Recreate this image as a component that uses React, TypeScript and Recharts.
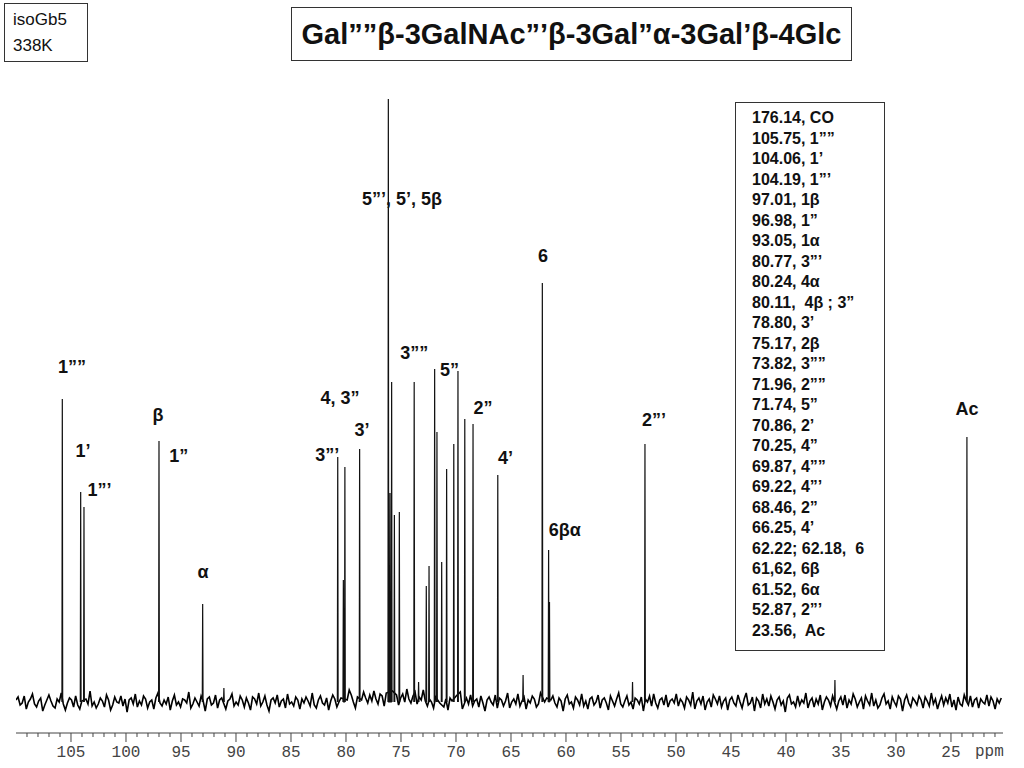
import React from 'react';
import { LineChart, Line, XAxis, YAxis, ReferenceDot } from 'recharts';

// peak positions (ppm) and heights (px above baseline)
const PEAK_PPM = [
  105.79, 104.12, 103.82, 97.0, 93.03, 91.1, 80.75, 80.24, 80.1, 78.76,
  76.15, 76.0, 75.85, 75.6, 75.15, 73.8, 73.4, 72.7, 72.45, 71.94,
  71.73, 71.3, 70.85, 70.2, 69.82, 69.2, 68.45, 66.2, 63.9, 62.15,
  61.58, 61.5, 53.95, 52.82, 35.55, 23.55,
];
const PEAK_HEIGHT = [
  303, 210, 195, 261, 98, 14, 245, 122, 235, 253,
  603, 209, 320, 187, 190, 320, 20, 116, 136, 333,
  270, 140, 233, 258, 331, 283, 278, 227, 27, 419,
  152, 100, 20, 258, 22, 265,
];
const PEAK_HALF = 0.035;

// baseline noise, sampled every NOISE_STEP ppm from NOISE_START
const NOISE_START = 110;
const NOISE_STEP = 0.187;
const NOISE = [
  2, 5, -3, -1, 6, -7, 0, 3, 8, -2, -5, 1, 4, -9, -3, 2, 7, 1, -4, -6,
  3, 0, 9, -2, -8, -1, 4, 2, -5, 6, -3, -7, 1, 5, 3, -2, 11, -4, 0, -6,
  -2, 4, 1, -5, 7, 2, -8, -3, 5, 0, -1, 6, -4, 3, -10, 2, 4, -2, 8, -5,
  1, -3, 6, 3, -6, 0, 2, -7, 4, 9, -1, -4, 2, -2, 5, -8, 1, 7, -3, 0,
  -5, 3, 2, -1, 10, -6, -2, 4, 0, -4, 6, 1, -9, 3, 5, -3, -1, 7, -6, 2,
  4, -2, -7, 1, 3, 8, -4, 0, -3, 6, 2, -5, 4, -1, -8, 5, 3, -2, 9, -4,
  0, 6, -3, -9, 2, 4, -1, 7, -5, 1, 3, -6, 8, -2, 0, -4, 5, 2, -7, 3,
  -1, 5, 1, -4, 9, -3, -6, 2, 6, -1, -3, 4, -8, 1, 7, 3, -5, 0, 4, -7,
  6, 2, 12, 7, 0, -6, 5, 9, 2, 10, 4, -1, 7, 1, 11, 3, -2, 8, 6, -4,
  9, 5, 1, 11, 2, 7, -3, 4, 8, 0, 13, 3, -1, 6, 10, -2, 5, 2, 12, 1,
  -4, 3, 0, -6, 5, 2, -1, 8, -5, 3, -8, 4, 1, -2, 6, -3, 10, -7, 0, 4,
  -2, 7, -4, 1, 3, -5, 6, -1, -9, 2, 5, 0, -3, 7, -6, 4, 2, -4, 1, 9,
  -6, 0, 3, -2, 8, -4, 1, 5, -7, 2, -1, 6, 3, -5, -2, 9, -3, 0, 4, -8,
  2, 6, -1, -5, 4, 1, -9, 3, 7, -2, 0, -6, 5, 2, -3, 8, -4, 1, -7, 3,
  5, -3, 0, 7, -6, 2, 4, -1, -8, 6, 1, -4, 3, 9, -2, -5, 1, 6, -3, 0,
  -7, 4, 2, -2, 5, -9, 3, 0, 6, -4, 8, -1, -6, 2, 4, -3, 7, -5, 1, 3,
  -1, 8, -4, 3, 0, -6, 5, 2, -3, 10, -7, 1, 4, -2, 6, -8, 0, 3, -5, 7,
  3, -2, 6, -5, 1, 4, -8, 2, 5, -1, -4, 7, 0, -6, 3, 9, -3, -1, 5, -9,
  4, 1, -6, 8, -2, 3, -4, 6, 0, -7, 2, 5, -3, 1, -10, 4, 7, -2, 0, -5,
  6, -3, 2, -1, 9, -6, 1, 4, -5, 3, -2, 7, -8, 0, 5, 2, -4, 6, -1, -7,
  1, 5, -3, 7, -6, 2, -2, 8, 3, -5, 0, 4, -7, 6, 1, -3, 9, -4, 2, -6,
  -3, 4, 8, -2, 1, -7, 5, 0, -4, 6, 3, -9, 2, 7, -1, -5, 4, 1, -3, 6,
  2, -6, 5, 1, -4, 9, -2, 3, -7, 0, 6, -3, 4, -1, 8, -5, 2, -8, 5, -2,
  -4, 7, 1, -3, 6, -5, 2, 4, -6, 3, 0, -2, 7, -4, 5, 1, -7, 3, -1, 4,
];

// peak annotations: text, ppm and height of the text centre
const LABEL_TEXT = [
  '1\u201d\u201d', '1\u2019', '1\u201d\u2019', '\u03b2', '1\u201d', '\u03b1',
  '3\u201d\u2019', '4, 3\u201d', '3\u2019', '5\u201d\u2019, 5\u2019, 5\u03b2',
  '3\u201d\u201d', '5\u201d', '2\u201d', '4\u2019', '6', '6\u03b2\u03b1', '2\u201d\u2019', 'Ac',
];
const LABEL_PPM = [
  104.9, 103.9, 102.4, 97.1, 95.2, 93.0, 81.7, 80.55, 78.55, 74.9,
  73.8, 70.6, 67.55, 65.5, 62.1, 60.1, 52.0, 23.55,
];
const LABEL_Y = [
  335, 251, 212, 287, 246, 130, 247, 304, 272, 503,
  349, 332, 294, 244, 446, 172, 282, 293,
];

const SHIFT_LIST = [
  '176.14, CO', '105.75, 1\u201d\u201d', '104.06, 1\u2019', '104.19, 1\u201d\u2019',
  '97.01, 1\u03b2', '96.98, 1\u201d', '93.05, 1\u03b1', '80.77, 3\u201d\u2019',
  '80.24, 4\u03b1', '80.11,  4\u03b2 ; 3\u201d', '78.80, 3\u2019', '75.17, 2\u03b2',
  '73.82, 3\u201d\u201d', '71.96, 2\u201d\u201d', '71.74, 5\u201d', '70.86, 2\u2019',
  '70.25, 4\u201d', '69.87, 4\u201d\u201d', '69.22, 4\u201d\u2019', '68.46, 2\u201d',
  '66.25, 4\u2019', '62.22; 62.18,  6', '61,62, 6\u03b2', '61.52, 6\u03b1',
  '52.87, 2\u201d\u2019', '23.56,  Ac',
];

const MAJOR_TICKS = [105, 100, 95, 90, 85, 80, 75, 70, 65, 60, 55, 50, 45, 40, 35, 30, 25];
const AXIS_TICKS = Array.from({ length: 89 }, (_, i) => 21 + i);

const nearPeak = (ppm: number) => PEAK_PPM.some(p => Math.abs(p - ppm) <= PEAK_HALF);

// noise rows carry "n", peak rows carry "p"; each series skips the other's rows
const rows: { ppm: number; n?: number; p?: number }[] = [];
NOISE.forEach((v, i) => {
  const ppm = NOISE_START - i * NOISE_STEP;
  if (!nearPeak(ppm)) rows.push({ ppm, n: v });
});
PEAK_PPM.forEach((p, i) => {
  rows.push({ ppm: p + PEAK_HALF, p: 0 }, { ppm: p, p: PEAK_HEIGHT[i] }, { ppm: p - PEAK_HALF, p: 0 });
});
rows.sort((a, b) => b.ppm - a.ppm);

const PpmTick = (props: any) => {
  const { x, y, payload } = props;
  const major = MAJOR_TICKS.includes(payload.value);
  return (
    <g>
      <line x1={x} x2={x} y1={y} y2={y + (major ? 9 : 4)} stroke="#444" strokeWidth={1} />
      {major && (
        <text x={x} y={y + 24} textAnchor="middle" fill="#444" fontSize={16} fontFamily="Liberation Mono">
          {payload.value}
        </text>
      )}
    </g>
  );
};

const box: React.CSSProperties = {
  position: 'absolute',
  border: '1px solid #333',
  boxSizing: 'border-box',
  background: '#fff',
};

export default function App() {
  return (
    <div style={{ position: 'absolute', left: 0, top: 0, width: 1024, height: 768, background: '#fff', fontFamily: 'Liberation Sans, Arial, sans-serif' }}>
      <LineChart width={1024} height={768} data={rows} margin={{ top: 60, right: 21, left: 16, bottom: 5 }}>
        <XAxis
          dataKey="ppm"
          type="number"
          domain={[20.27, 110]}
          reversed
          allowDataOverflow
          ticks={AXIS_TICKS}
          interval={0}
          tick={<PpmTick />}
          tickLine={false}
          tickSize={0}
          tickMargin={0}
          height={30}
          stroke="#444"
        />
        <YAxis hide domain={[-31, 642]} allowDataOverflow />
        <Line type="linear" dataKey="n" stroke="#000" strokeWidth={1.6} dot={false} connectNulls isAnimationActive={false} />
        <Line type="linear" dataKey="p" stroke="#111" strokeWidth={1.2} dot={false} isAnimationActive={false} />
        {LABEL_TEXT.map((t, i) => (
          <ReferenceDot
            key={t + i}
            x={LABEL_PPM[i]}
            y={LABEL_Y[i]}
            r={0}
            shape={(p: any) => (
              <text x={p.cx} y={p.cy} textAnchor="middle" dominantBaseline="central" fontSize={18} fontWeight="bold" fill="#111" fontFamily="Liberation Sans, Arial">
                {t}
              </text>
            )}
          />
        ))}
      </LineChart>

      <div style={{ position: 'absolute', left: 975, top: 743, whiteSpace: 'nowrap', fontFamily: 'Liberation Mono', fontSize: 16, color: '#444' }}>ppm</div>

      <div style={{ ...box, left: 4, top: 3, width: 84, height: 59, padding: '3px 0 0 8px', fontSize: 17, lineHeight: '26px', color: '#111' }}>
        isoGb5
        <br />
        338K
      </div>

      <div style={{ ...box, left: 291, top: 7, width: 561, height: 54, display: 'flex', alignItems: 'center', justifyContent: 'center', fontSize: 29, fontWeight: 'bold', color: '#111', whiteSpace: 'nowrap' }}>
        Gal{'\u201d\u201d\u03b2'}-3GalNAc{'\u201d\u2019\u03b2'}-3Gal{'\u201d\u03b1'}-3Gal{'\u2019\u03b2'}-4Glc
      </div>

      <div style={{ ...box, left: 735, top: 102, width: 150, height: 549, padding: '5px 0 0 16px', fontSize: 16, fontWeight: 'bold', lineHeight: '20.5px', color: '#111', whiteSpace: 'pre' }}>
        {SHIFT_LIST.map(s => (
          <div key={s}>{s}</div>
        ))}
      </div>
    </div>
  );
}
